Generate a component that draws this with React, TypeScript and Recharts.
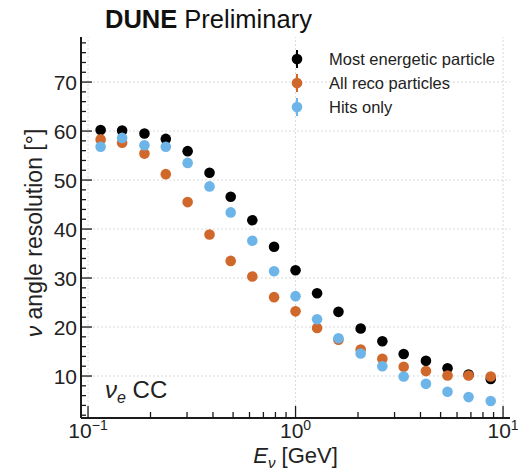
import React from 'react';
import { ScatterChart, Scatter, XAxis, YAxis, ReferenceLine } from 'recharts';

// neutrino energy bin centres [GeV]
const energies = [0.115, 0.146, 0.187, 0.237, 0.302, 0.385, 0.487, 0.619, 0.788, 1.0, 1.27, 1.61, 2.06, 2.62, 3.32, 4.25, 5.4, 6.82, 8.72];

// angle resolution [deg]
const mostEnergetic = [60.2, 60.1, 59.5, 58.4, 55.9, 51.5, 46.6, 41.8, 36.4, 31.6, 26.9, 23.1, 19.7, 17.1, 14.5, 13.1, 11.6, 10.3, 9.4];
const allReco = [58.3, 57.6, 55.4, 51.2, 45.5, 38.9, 33.5, 30.3, 26.1, 23.2, 19.8, 17.4, 15.4, 13.5, 11.9, 11.0, 10.1, 10.1, 9.9];
const hitsOnly = [56.8, 58.6, 57.1, 56.8, 53.5, 48.7, 43.4, 37.6, 31.4, 26.3, 21.6, 17.7, 14.6, 12.0, 9.9, 8.4, 6.8, 5.7, 4.9];

const xMajorTicks = [0.1, 1, 10];
const xTickExponents = ['\u22121', '0', '1'];
const xTicks = [0.1, 0.2, 0.3, 0.4, 0.5, 0.6, 0.7, 0.8, 0.9, 1, 2, 3, 4, 5, 6, 7, 8, 9, 10];
const yMajorTicks = [10, 20, 30, 40, 50, 60, 70];
const yTicks = [2, 4, 6, 8, 10, 12, 14, 16, 18, 20, 22, 24, 26, 28, 30, 32, 34, 36, 38, 40, 42, 44, 46, 48, 50, 52, 54, 56, 58, 60, 62, 64, 66, 68, 70, 72, 74, 76, 78];

const series = [
  { name: 'Most energetic particle', color: '#000000', values: mostEnergetic },
  { name: 'All reco particles', color: '#d0672b', values: allReco },
  { name: 'Hits only', color: '#6db5e8', values: hitsOnly },
];

const FONT = '"Liberation Sans", Arial, Helvetica, sans-serif';
const INK = '#1a1a1a';
const X_DOMAIN: [number, number] = [0.0925, 10.8];
const Y_DOMAIN: [number, number] = [1.43, 79.2];

const BottomTick = ({ x, y, payload }: any) => {
  const i = xMajorTicks.indexOf(payload.value);
  const major = i >= 0;
  return (
    <g>
      <line x1={x} x2={x} y1={y} y2={y - (major ? 12 : 6)} stroke={INK} strokeWidth={1.3} />
      {major && (
        <text x={x} y={y + 20} textAnchor="middle" fontSize={21} fontFamily={FONT} fill="#222">
          10<tspan dy={-8} fontSize={14}>{xTickExponents[i]}</tspan>
        </text>
      )}
    </g>
  );
};

const TopTick = ({ x, y, payload }: any) => {
  const major = xMajorTicks.includes(payload.value);
  return <line x1={x} x2={x} y1={y} y2={y + (major ? 12 : 6)} stroke={INK} strokeWidth={1.3} />;
};

const LeftTick = ({ x, y, payload }: any) => {
  const major = yMajorTicks.includes(payload.value);
  return (
    <g>
      <line x1={x} x2={x + (major ? 11 : 5)} y1={y} y2={y} stroke={INK} strokeWidth={1.3} />
      {major && (
        <text x={x - 4} y={y} textAnchor="end" dominantBaseline="central" fontSize={21} fontFamily={FONT} fill="#222">
          {payload.value}
        </text>
      )}
    </g>
  );
};

const RightTick = ({ x, y, payload }: any) => {
  const major = yMajorTicks.includes(payload.value);
  return <line x1={x} x2={x - (major ? 11 : 5)} y1={y} y2={y} stroke={INK} strokeWidth={1.3} />;
};

const dot = (color: string) => (p: any) => <circle cx={p.cx} cy={p.cy} r={5.3} fill={color} />;

const frame = { stroke: INK, strokeWidth: 2 };

export default function App() {
  return (
    <div style={{ position: 'absolute', left: 0, top: 0, width: 518, height: 471, background: '#fff' }}>
      <ScatterChart width={518} height={471} margin={{ top: 37, right: 8, bottom: 0, left: 0 }}>
        <XAxis
          dataKey="x"
          type="number"
          scale="log"
          domain={X_DOMAIN}
          allowDataOverflow
          ticks={xTicks}
          interval={0}
          height={53}
          tickSize={0}
          tickMargin={0}
          tickLine={false}
          axisLine={frame}
          tick={(p: any) => <BottomTick {...p} />}
        />
        <XAxis
          xAxisId="top"
          orientation="top"
          type="number"
          scale="log"
          domain={X_DOMAIN}
          allowDataOverflow
          ticks={xTicks}
          interval={0}
          height={0}
          tickSize={0}
          tickMargin={0}
          tickLine={false}
          axisLine={frame}
          tick={(p: any) => <TopTick {...p} />}
        />
        <YAxis
          dataKey="y"
          type="number"
          domain={Y_DOMAIN}
          allowDataOverflow
          ticks={yTicks}
          interval={0}
          width={81}
          tickSize={0}
          tickMargin={0}
          tickLine={false}
          axisLine={frame}
          tick={(p: any) => <LeftTick {...p} />}
        />
        <YAxis
          yAxisId="right"
          orientation="right"
          type="number"
          domain={Y_DOMAIN}
          allowDataOverflow
          ticks={yTicks}
          interval={0}
          width={0}
          tickSize={0}
          tickMargin={0}
          tickLine={false}
          axisLine={frame}
          tick={(p: any) => <RightTick {...p} />}
        />
        {yMajorTicks.map((v) => (
          <ReferenceLine key={'h' + v} y={v} stroke="#d6d6d6" strokeWidth={0.9} strokeDasharray="2 2" />
        ))}
        {xMajorTicks.map((v) => (
          <ReferenceLine key={'v' + v} x={v} stroke="#d6d6d6" strokeWidth={0.9} strokeDasharray="2 2" />
        ))}
        {series.map((s) => (
          <Scatter
            key={s.name}
            name={s.name}
            data={energies.map((e, i) => ({ x: e, y: s.values[i] }))}
            fill={s.color}
            shape={dot(s.color)}
            isAnimationActive={false}
          />
        ))}
      </ScatterChart>

      <svg width={518} height={471} style={{ position: 'absolute', left: 0, top: 0, pointerEvents: 'none' }}>
        <text x={105} y={28} fontFamily={FONT} fontSize={25.5} fill="#111">
          <tspan fontWeight="bold">DUNE</tspan>
          <tspan> Preliminary</tspan>
        </text>

        {series.map((s, i) => {
          const cy = 59 + i * 24;
          return (
            <g key={s.name}>
              <line x1={297} x2={297} y1={cy - 9} y2={cy + 9} stroke={s.color} strokeWidth={2} />
              <circle cx={297} cy={cy} r={5.3} fill={s.color} />
              <text x={329} y={cy} dominantBaseline="central" fontFamily={FONT} fontSize={16.5} fill="#222">
                {s.name}
              </text>
            </g>
          );
        })}

        <text transform="translate(42,233) rotate(-90)" textAnchor="middle" fontFamily={FONT} fontSize={23} fill="#222">
          <tspan fontStyle="italic">{'\u03bd'}</tspan>
          <tspan> angle resolution [°]</tspan>
        </text>

        <text x={295.5} y={463} textAnchor="middle" fontFamily={FONT} fontSize={22} fill="#222">
          <tspan fontStyle="italic">E</tspan>
          <tspan fontStyle="italic" fontSize={15} dy={5}>{'\u03bd'}</tspan>
          <tspan dy={-5}> [GeV]</tspan>
        </text>

        <text x={105} y={398} fontFamily={FONT} fontSize={24} fill="#222">
          <tspan fontStyle="italic">{'\u03bd'}</tspan>
          <tspan fontStyle="italic" fontSize={16} dy={5}>e</tspan>
          <tspan dy={-5}> CC</tspan>
        </text>
      </svg>
    </div>
  );
}
